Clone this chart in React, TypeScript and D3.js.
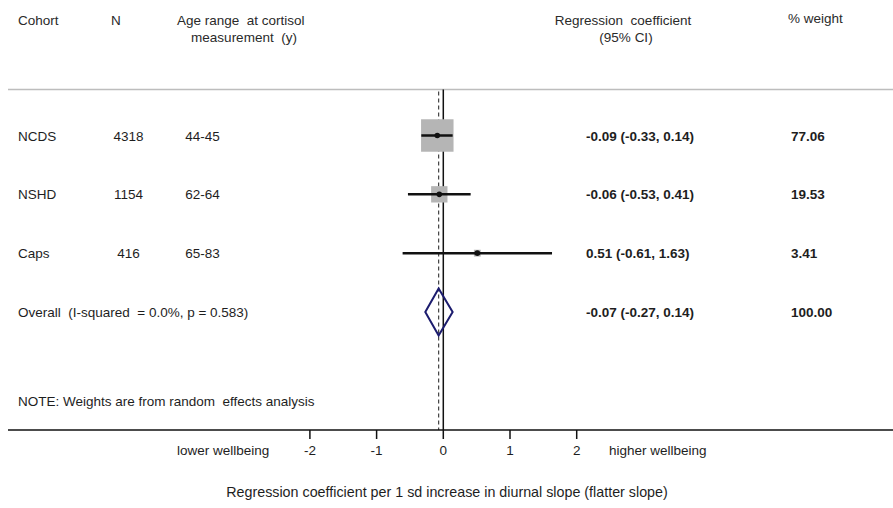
import React from "react";
import * as d3 from "d3";

const cohorts = ["NCDS", "NSHD", "Caps"];
const sampleN = ["4318", "1154", "416"];
const ageRanges = ["44-45", "62-64", "65-83"];
const estimates = [-0.09, -0.06, 0.51];
const lowerCI = [-0.33, -0.53, -0.61];
const upperCI = [0.14, 0.41, 1.63];
const weights = [77.06, 19.53, 3.41];
const estLabels = ["-0.09 (-0.33, 0.14)", "-0.06 (-0.53, 0.41)", "0.51 (-0.61, 1.63)"];
const weightLabels = ["77.06", "19.53", "3.41"];
const overall = { est: -0.07, lo: -0.27, hi: 0.14, label: "-0.07 (-0.27, 0.14)", weight: "100.00" };
const overallText = "Overall  (I-squared  = 0.0%, p = 0.583)";
const xTicks = [-2, -1, 0, 1, 2];
const rowKeys = ["NCDS", "NSHD", "Caps", "Overall"];

const W = 893;
const H = 508;
const FONT = "'Liberation Sans', Arial, sans-serif";

export default function App() {
  const x = d3.scaleLinear().domain([0, 1]).range([443.3, 510]);
  const y = d3.scalePoint<string>().domain(rowKeys).range([135.5, 312]);
  const boxSide = d3.scaleSqrt().domain([0, 100]).range([0, 37]);
  const fs = 13.5;
  const txt = "#1e1e1e";
  const axisY = 430;
  const headerY = 89.5;
  const oy = y("Overall")!;
  const diamondH = 23.5;
  const diamond = [
    [x(overall.lo), oy],
    [x(overall.est), oy - diamondH],
    [x(overall.hi), oy],
    [x(overall.est), oy + diamondH],
  ];

  return (
    <svg width={W} height={H} style={{ position: "absolute", left: 0, top: 0, background: "#fff" }} fontFamily={FONT}>
      <rect x={0} y={0} width={W} height={H} fill="#fff" />
      {/* headers */}
      <g fontSize={fs} fill="#2a2a2a">
        <text x={18} y={25}>Cohort</text>
        <text x={111} y={25}>N</text>
        <text x={177} y={25} style={{ whiteSpace: "pre" }}>Age range  at cortisol</text>
        <text x={244} y={42} textAnchor="middle" style={{ whiteSpace: "pre" }}>measurement  (y)</text>
        <text x={623} y={25} textAnchor="middle" style={{ whiteSpace: "pre" }}>Regression  coefficient</text>
        <text x={626} y={42} textAnchor="middle">(95% CI)</text>
        <text x={788} y={23}>% weight</text>
      </g>
      <line x1={8} x2={W} y1={headerY} y2={headerY} stroke="#bdbdbd" strokeWidth={1.5} />

      {/* reference lines */}
      <line x1={x(0)} x2={x(0)} y1={headerY} y2={axisY} stroke="#111" strokeWidth={1.5} />
      <line x1={x(overall.est)} x2={x(overall.est)} y1={headerY + 2} y2={axisY} stroke="#444" strokeWidth={1.2} strokeDasharray="4,3" />

      {/* rows */}
      {cohorts.map((c, i) => {
        const cy = y(c)!;
        const s = boxSide(weights[i]);
        return (
          <g key={c}>
            <rect x={x(estimates[i]) - s / 2} y={cy - s / 2} width={s} height={s} fill="#b5b5b5" />
            <line x1={x(lowerCI[i])} x2={x(upperCI[i])} y1={cy} y2={cy} stroke="#111" strokeWidth={2.5} />
            <circle cx={x(estimates[i])} cy={cy} r={2.8} fill="#111" />
            <g fontSize={fs} fill={txt}>
              <text x={18} y={cy + 5}>{c}</text>
              <text x={128.5} y={cy + 5} textAnchor="middle">{sampleN[i]}</text>
              <text x={202.5} y={cy + 5} textAnchor="middle">{ageRanges[i]}</text>
              <text x={586} y={cy + 5} fontWeight="bold">{estLabels[i]}</text>
              <text x={791} y={cy + 5} fontWeight="bold">{weightLabels[i]}</text>
            </g>
          </g>
        );
      })}

      {/* overall */}
      <polygon points={diamond.map((p) => p.join(",")).join(" ")} fill="none" stroke="#1c1c6e" strokeWidth={2} />
      <g fontSize={fs} fill={txt}>
        <text x={18} y={oy + 5} style={{ whiteSpace: "pre" }}>{overallText}</text>
        <text x={586} y={oy + 5} fontWeight="bold">{overall.label}</text>
        <text x={791} y={oy + 5} fontWeight="bold">{overall.weight}</text>
        <text x={18} y={406} style={{ whiteSpace: "pre" }}>NOTE: Weights are from random  effects analysis</text>
      </g>

      {/* axis */}
      <line x1={8} x2={W} y1={axisY} y2={axisY} stroke="#111" strokeWidth={1.5} />
      {xTicks.map((t) => (
        <g key={t}>
          <line x1={x(t)} x2={x(t)} y1={axisY} y2={axisY + 9} stroke="#111" strokeWidth={1.5} />
          <text x={x(t)} y={455} textAnchor="middle" fontSize={fs} fill={txt}>{t}</text>
        </g>
      ))}
      <text x={177} y={455} fontSize={fs} fill={txt}>lower wellbeing</text>
      <text x={609} y={455} fontSize={fs} fill={txt}>higher wellbeing</text>
      <text x={447} y={497} textAnchor="middle" fontSize={14.3} fill={txt}>
        Regression coefficient per 1 sd increase in diurnal slope (flatter slope)
      </text>
    </svg>
  );
}
